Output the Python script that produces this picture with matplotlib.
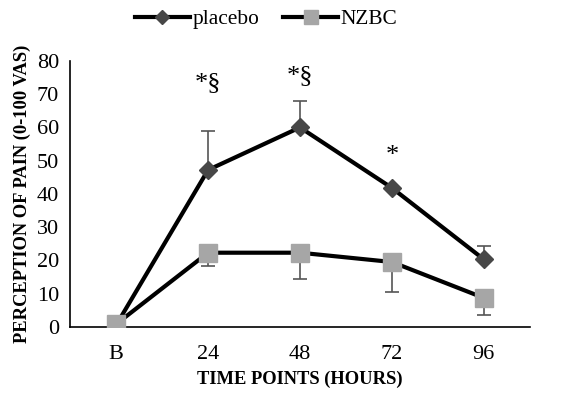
import matplotlib
matplotlib.use("Agg")
import matplotlib.pyplot as plt

plt.rcParams['font.family'] = ['Liberation Serif', 'DejaVu Serif']

categories = ["B", "24", "48", "72", "96"]
placebo = [0.5, 47.2, 60.0, 41.8, 20.3]
placebo_err_up = [0, 11.8, 7.8, 0, 4.1]
nzbc = [0.8, 22.3, 22.3, 19.5, 8.7]
nzbc_err_down = [0, 4.0, 7.9, 9.0, 5.1]
# significance marks: (category index, y value, text)
marks = [(1, 73.5, "*§"), (2, 75.5, "*§"), (3, 51.5, "*")]

fig = plt.figure(figsize=(5.66, 4.01), dpi=100)
ax = fig.add_axes([0.124, 0.185, 0.812, 0.663])
x = list(range(len(categories)))

ax.errorbar(x, placebo, yerr=[[0] * 5, placebo_err_up], fmt="none",
            ecolor="#555555", elinewidth=1.2, capsize=5, capthick=1.2, zorder=2)
ax.errorbar(x, nzbc, yerr=[nzbc_err_down, [0] * 5], fmt="none",
            ecolor="#555555", elinewidth=1.2, capsize=5, capthick=1.2, zorder=2)
ax.plot(x, placebo, color="black", lw=3, marker="D", ms=9,
        mfc="#474747", mec="#474747", label="placebo", zorder=3)
ax.plot(x, nzbc, color="black", lw=3, marker="s", ms=13,
        mfc="#a6a6a6", mec="#a6a6a6", label="NZBC", zorder=4)

for i, y, t in marks:
    ax.text(i, y, t, ha="center", va="center", fontsize=19)

ax.set_xlim(-0.5, 4.5)
ax.set_ylim(0, 80)
ax.set_yticks(range(0, 81, 10))
ax.set_xticks(x)
ax.set_xticklabels(categories)
ax.tick_params(length=0, labelsize=16)
ax.tick_params(axis="x", pad=13)
ax.tick_params(axis="y", pad=8)
for s in ["top", "right"]:
    ax.spines[s].set_visible(False)
for s in ["left", "bottom"]:
    ax.spines[s].set_linewidth(1.2)

ax.set_xlabel("TIME POINTS (HOURS)", fontsize=13.3, fontweight="bold", labelpad=5)
ax.set_ylabel("PERCEPTION OF PAIN (0-100 VAS)", fontsize=13.3, fontweight="bold", labelpad=4)

fig.legend(loc="upper center", bbox_to_anchor=(0.47, 1.025), ncol=2, frameon=False,
           fontsize=15.4, handlelength=2.6, handletextpad=0.1, columnspacing=1.1,
           markerscale=0.8)

fig.savefig("out.png", dpi=100)
